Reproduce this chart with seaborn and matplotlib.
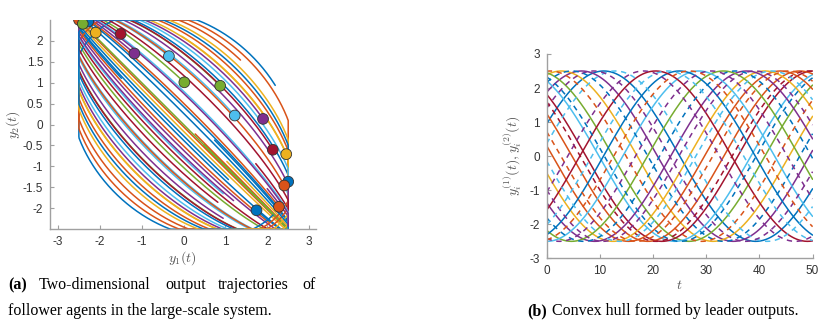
import numpy as np
import pandas as pd
import seaborn as sns
import matplotlib.pyplot as plt

# MATLAB default line colours
colors = {"blue": "#0072BD", "orange": "#D95319", "yellow": "#EDB120",
          "purple": "#7E2F8E", "green": "#77AC30", "lightblue": "#4DBEEE",
          "red": "#A2142F"}

# (a) follower trajectories: ellipse opening, phase at final time, colour, final marker
follower_delta = [0.02, 0.14, 0.06, 0.34, 0.23, 0.52, 0.39, 0.68, 0.55, 0.83,
                  0.685, 0.875, 0.72, 0.53, 0.19, 0.16, 0.00,
                  1.30, 1.135, 1.22, 1.05, 0.95, 0.88, 0.78, 0.62, 0.45, 0.30, 0.10, 0.28, 1.00]
follower_theta_end = [-1.18, -1.005, -0.89, -0.59, -0.45, -0.13, 0.007, 0.33, 0.47, 0.78,
                      0.91, 1.14, 1.25, 1.10, 1.005, 2.44, -1.10,
                      0.946, 0.528, -1.57, -1.40, 1.45, -1.30, 1.45, 1.50, 1.55, 1.50, 1.45,
                      1.40, 1.30]
follower_color = ["orange", "blue", "yellow", "red", "purple", "lightblue", "green", "green",
                  "lightblue", "purple", "red", "yellow", "blue", "orange", "orange", "blue",
                  "green", "blue", "orange", "orange", "yellow", "orange", "yellow", "lightblue",
                  "purple", "red", "lightblue", "blue", "purple", "blue"]
follower_marker = [True] * 17 + [False] * 13

# (b) leader outputs: phase at t=0 and colour, y^(1) solid and y^(2) dashed
leader_phase_1 = [0.39, 0.85, 1.27, 1.77, 2.06, 2.33, 2.62, 3.02, 3.34, 3.72, 4.20, 4.71, 5.11, 5.60]
leader_color_1 = ["blue", "purple", "yellow", "green", "lightblue", "red", "orange", "orange",
                  "yellow", "purple", "green", "lightblue", "blue", "red"]
leader_phase_2 = [0.15, 0.60, 1.05, 1.50, 1.95, 2.45, 2.85, 3.20, 3.55, 3.95, 4.45, 4.90, 5.35, 5.85]
leader_color_2 = ["lightblue", "purple", "blue", "orange", "blue", "red", "orange", "lightblue",
                  "purple", "blue", "purple", "orange", "lightblue", "purple"]

amp_f, amp_l, sat = 2.7, 2.5, 2.5
span = 5.0
omega = 0.11
t = np.linspace(0, 50, 500)

sns.set_style("white")
plt.rcParams["font.family"] = ["Liberation Sans", "DejaVu Sans"]
plt.rcParams["mathtext.fontset"] = "cm"
plt.rcParams["axes.unicode_minus"] = False

fig = plt.figure(figsize=(8.36, 3.25), dpi=100)
ax1 = fig.add_axes([0.0598, 0.2948, 0.318, 0.644])
ax2 = fig.add_axes([0.654, 0.205, 0.318, 0.629])

# follower curves
frames = []
for i, (d, te) in enumerate(zip(follower_delta, follower_theta_end)):
    th = np.linspace(te - span, te, 300)
    frames.append(pd.DataFrame({
        "curve": i,
        "y1": np.clip(amp_f * np.sin(th), -sat, sat),
        "y2": np.clip(-amp_f * np.sin(th - d), -sat, sat),
    }))
df_f = pd.concat(frames, ignore_index=True)
pal_f = {i: colors[c] for i, c in enumerate(follower_color)}

sns.lineplot(data=df_f, x="y1", y="y2", hue="curve", palette=pal_f, sort=False,
             estimator=None, legend=False, lw=1.1, ax=ax1)

ends = df_f.groupby("curve").tail(1)
ends = ends[[follower_marker[c] for c in ends["curve"]]]
sns.scatterplot(data=ends, x="y1", y="y2", hue="curve", palette=pal_f, s=60,
                edgecolor="#333333", linewidth=0.6, legend=False, zorder=5, ax=ax1)

ax1.set_xlim(-3.19, 3.16)
ax1.set_ylim(-2.5, 2.5)
ax1.set_xticks(range(-3, 4))
ax1.set_yticks(np.arange(-2, 2.01, 0.5))
ax1.set_yticklabels(["-2", "-1.5", "-1", "-0.5", "0", "0.5", "1", "1.5", "2"])
ax1.set_xticklabels([str(v) for v in range(-3, 4)])
ax1.set_xlabel(r"$y_1(t)$", fontsize=10, color="#555555")
ax1.set_ylabel(r"$y_2(t)$", fontsize=10, color="#555555")
ax1.xaxis.set_label_coords(0.5, -0.095)
ax1.yaxis.set_label_coords(-0.105, 0.5)

# leader outputs
frames = []
for i, p in enumerate(leader_phase_1):
    frames.append(pd.DataFrame({"line": f"s{i}", "kind": "solid", "t": t,
                                "y": amp_l * np.sin(omega * t + p)}))
for i, p in enumerate(leader_phase_2):
    frames.append(pd.DataFrame({"line": f"d{i}", "kind": "dashed", "t": t,
                                "y": amp_l * np.sin(omega * t + p)}))
df_l = pd.concat(frames, ignore_index=True)
pal_l = {f"s{i}": colors[c] for i, c in enumerate(leader_color_1)}
pal_l.update({f"d{i}": colors[c] for i, c in enumerate(leader_color_2)})

sns.lineplot(data=df_l, x="t", y="y", hue="line", style="kind", palette=pal_l,
             dashes={"solid": "", "dashed": (3.5, 3)}, estimator=None, legend=False,
             lw=1.1, ax=ax2)

ax2.set_xlim(0, 50)
ax2.set_ylim(-3, 3)
ax2.set_xticks(range(0, 51, 10))
ax2.set_yticks(range(-3, 4))
ax2.set_xlabel(r"$t$", fontsize=10, color="#555555")
ax2.set_ylabel(r"$y_i^{(1)}(t), y_i^{(2)}(t)$", fontsize=10, color="#555555")
ax2.xaxis.set_label_coords(0.5, -0.096)
ax2.yaxis.set_label_coords(-0.085, 0.5)

for ax in (ax1, ax2):
    sns.despine(ax=ax)
    for s in ("left", "bottom"):
        ax.spines[s].set_color("#a0a0a0")
        ax.spines[s].set_linewidth(1.0)
    ax.tick_params(direction="in", length=3, width=0.8, color="#a0a0a0",
                   labelsize=8.5, labelcolor="#333333", bottom=True, left=True, pad=5)

# captions
cap = dict(family="Liberation Serif", fontsize=11.5, va="center", color="black")
y1c = 1 - 285 / 325
y2c = 1 - 311 / 325
fig.text(8 / 836, y1c, "(a)", weight="bold", **cap)
for x, w in [(39, "Two-dimensional"), (165, "output"), (218, "trajectories"), (302, "of")]:
    fig.text(x / 836, y1c, w, **cap)
fig.text(8 / 836, y2c, "follower agents in the large-scale system.", **cap)
fig.text(527 / 836, y2c, "(b)", weight="bold", **cap)
fig.text(552 / 836, y2c, "Convex hull formed by leader outputs.", **cap)

fig.savefig("out.png", dpi=100)
